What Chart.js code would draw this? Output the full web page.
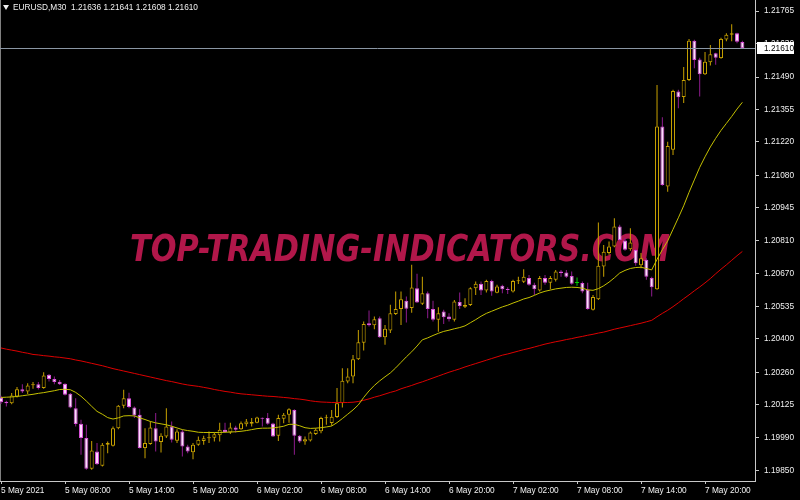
<!DOCTYPE html>
<html><head><meta charset="utf-8">
<script src="https://cdn.jsdelivr.net/npm/chart.js@4"></script>
<style>html,body{margin:0;padding:0;background:#000;overflow:hidden}canvas{display:block}</style>
</head><body>
<canvas id="c" width="800" height="500"></canvas>
<script>
// ---------------- data ----------------
const symbolTitle = 'EURUSD,M30';
const lastOHLC = ['1.21636', '1.21641', '1.21608', '1.21610'];
const bidPrice = 1.21610;
const watermarkText = 'TOP-TRADING-INDICATORS.COM';

const timeLabels = ['5 May 2021', '5 May 08:00', '5 May 14:00', '5 May 20:00', '6 May 02:00', '6 May 08:00',
  '6 May 14:00', '6 May 20:00', '7 May 02:00', '7 May 08:00', '7 May 14:00', '7 May 20:00'];
const barsPerTimeLabel = 12;

const priceTicks = [1.21765, 1.21630, 1.21490, 1.21355, 1.21220, 1.21080, 1.20945, 1.20810,
  1.20670, 1.20535, 1.20400, 1.20260, 1.20125, 1.19990, 1.19850];

const opens = [
1.20156,1.20138,1.20132,1.20160,1.20190,1.20181,1.20207,1.20211,1.20195,1.20250,
1.20233,1.20221,1.20213,1.20171,1.20111,1.20046,1.19987,1.19859,1.19931,1.19871,
1.19959,1.19955,1.20028,1.20121,1.20153,1.20114,1.20084,1.19945,1.19962,1.20028,
1.19970,1.19993,1.20035,1.19976,1.20014,1.19952,1.19928,1.19959,1.19975,1.19986,
1.19988,1.19998,1.20021,1.20010,1.20031,1.20024,1.20044,1.20046,1.20051,1.20070,
1.20070,1.20047,1.19996,1.20067,1.20084,1.20104,1.19996,1.19972,1.19977,1.20004,
1.20015,1.20069,1.20050,1.20074,1.20132,1.20222,1.20243,1.20315,1.20384,1.20465,
1.20457,1.20486,1.20407,1.20435,1.20503,1.20524,1.20559,1.20528,1.20611,1.20546,
1.20590,1.20524,1.20479,1.20514,1.20493,1.20479,1.20553,1.20534,1.20541,1.20611,
1.20629,1.20601,1.20641,1.20592,1.20621,1.20608,1.20597,1.20640,1.20638,1.20653,
1.20625,1.20601,1.20653,1.20634,1.20646,1.20680,1.20676,1.20662,1.20632,1.20632,
1.20604,1.20521,1.20565,1.20701,1.20757,1.20784,1.20868,1.20809,1.20773,1.20770,
1.20706,1.20729,1.20653,1.20607,1.21284,1.21034,1.21187,1.21430,1.21407,1.21478,
1.21641,1.21563,1.21502,1.21552,1.21589,1.21569,1.21647,1.21666,1.21673,1.21636];

const highs = [
1.20163,1.20142,1.20174,1.20199,1.20211,1.20215,1.20220,1.20220,1.20261,1.20254,
1.20243,1.20229,1.20215,1.20174,1.20153,1.20063,1.20042,1.19975,1.19966,1.19966,
1.19972,1.20035,1.20125,1.20188,1.20176,1.20118,1.20107,1.20028,1.20056,1.20091,
1.20007,1.20111,1.20056,1.20024,1.20021,1.19959,1.19966,1.19993,1.19996,1.20014,
1.20010,1.20051,1.20051,1.20051,1.20038,1.20056,1.20066,1.20070,1.20076,1.20072,
1.20091,1.20051,1.20084,1.20091,1.20111,1.20107,1.20000,1.19993,1.20014,1.20028,
1.20076,1.20084,1.20104,1.20195,1.20278,1.20278,1.20333,1.20437,1.20472,1.20518,
1.20493,1.20493,1.20458,1.20542,1.20597,1.20597,1.20576,1.20708,1.20671,1.20659,
1.20597,1.20559,1.20532,1.20521,1.20507,1.20562,1.20593,1.20569,1.20615,1.20639,
1.20639,1.20646,1.20646,1.20625,1.20625,1.20615,1.20646,1.20659,1.20690,1.20666,
1.20634,1.20662,1.20666,1.20662,1.20687,1.20687,1.20687,1.20680,1.20655,1.20639,
1.20634,1.20583,1.20884,1.20791,1.20805,1.20902,1.20875,1.20820,1.20861,1.20775,
1.20757,1.20736,1.20659,1.21457,1.21323,1.21221,1.21437,1.21437,1.21532,1.21649,
1.21645,1.21571,1.21594,1.21624,1.21591,1.21654,1.21673,1.21710,1.21675,1.21641];

const lows = [
1.20129,1.20118,1.20128,1.20156,1.20174,1.20170,1.20192,1.20189,1.20192,1.20222,
1.20211,1.20208,1.20164,1.20111,1.20035,1.19917,1.19855,1.19855,1.19875,1.19868,
1.19924,1.19952,1.20024,1.20111,1.20111,1.20070,1.19943,1.19903,1.19959,1.19931,
1.19927,1.19987,1.19968,1.19966,1.19910,1.19924,1.19899,1.19955,1.19959,1.19966,
1.19972,1.19972,1.20010,1.20004,1.20010,1.20021,1.20035,1.20035,1.20049,1.20035,
1.20042,1.19991,1.19975,1.20049,1.20051,1.19917,1.19966,1.19959,1.19972,1.20000,
1.20007,1.20042,1.20038,1.20070,1.20114,1.20215,1.20215,1.20312,1.20351,1.20451,
1.20440,1.20405,1.20375,1.20424,1.20499,1.20458,1.20468,1.20509,1.20549,1.20541,
1.20486,1.20472,1.20430,1.20462,1.20472,1.20472,1.20524,1.20528,1.20537,1.20583,
1.20583,1.20593,1.20579,1.20590,1.20590,1.20587,1.20593,1.20628,1.20632,1.20621,
1.20583,1.20597,1.20625,1.20607,1.20639,1.20659,1.20653,1.20625,1.20621,1.20590,
1.20521,1.20518,1.20562,1.20659,1.20750,1.20781,1.20805,1.20767,1.20767,1.20704,
1.20694,1.20646,1.20576,1.20604,1.21037,1.21013,1.21166,1.21360,1.21382,1.21474,
1.21527,1.21409,1.21499,1.21538,1.21541,1.21566,1.21639,1.21639,1.21631,1.21608];

const closes = [
1.20136,1.20132,1.20164,1.20190,1.20181,1.20206,1.20208,1.20195,1.20247,1.20233,
1.20220,1.20211,1.20167,1.20114,1.20045,1.19987,1.19859,1.19935,1.19878,1.19959,
1.19966,1.20028,1.20121,1.20153,1.20116,1.20081,1.19945,1.19966,1.20031,1.19972,
1.19996,1.20035,1.19980,1.20014,1.19952,1.19931,1.19959,1.19980,1.19986,1.19990,
1.20003,1.20021,1.20012,1.20031,1.20021,1.20049,1.20056,1.20054,1.20072,1.20067,
1.20046,1.19993,1.20070,1.20084,1.20107,1.19996,1.19972,1.19982,1.20010,1.20021,
1.20070,1.20071,1.20076,1.20132,1.20225,1.20243,1.20315,1.20386,1.20462,1.20457,
1.20482,1.20407,1.20442,1.20507,1.20524,1.20565,1.20525,1.20614,1.20551,1.20590,
1.20524,1.20479,1.20507,1.20490,1.20482,1.20555,1.20537,1.20541,1.20611,1.20629,
1.20601,1.20641,1.20597,1.20618,1.20607,1.20603,1.20641,1.20643,1.20659,1.20625,
1.20607,1.20653,1.20634,1.20653,1.20680,1.20674,1.20659,1.20629,1.20632,1.20597,
1.20524,1.20574,1.20704,1.20763,1.20784,1.20868,1.20812,1.20771,1.20801,1.20715,
1.20736,1.20659,1.20615,1.21284,1.21041,1.21203,1.21432,1.21406,1.21478,1.21641,
1.21561,1.21502,1.21554,1.21585,1.21571,1.21649,1.21666,1.21673,1.21637,1.21610];

const maFast = [
1.20156,1.20157,1.20158,1.20160,1.20163,1.20166,1.20169,1.20173,1.20176,1.20180,
1.20184,1.20189,1.20190,1.20188,1.20177,1.20161,1.20141,1.20119,1.20098,1.20086,
1.20072,1.20066,1.20071,1.20079,1.20080,1.20079,1.20071,1.20064,1.20056,1.20050,
1.20046,1.20042,1.20036,1.20029,1.20022,1.20018,1.20015,1.20011,1.20010,1.20010,
1.20010,1.20010,1.20011,1.20012,1.20013,1.20015,1.20018,1.20022,1.20026,1.20028,
1.20028,1.20029,1.20032,1.20036,1.20044,1.20044,1.20038,1.20030,1.20027,1.20028,
1.20030,1.20033,1.20037,1.20051,1.20068,1.20086,1.20104,1.20125,1.20156,1.20183,
1.20206,1.20225,1.20242,1.20258,1.20279,1.20302,1.20325,1.20346,1.20370,1.20396,
1.20404,1.20414,1.20423,1.20431,1.20436,1.20442,1.20447,1.20454,1.20467,1.20480,
1.20494,1.20506,1.20515,1.20524,1.20533,1.20540,1.20549,1.20557,1.20566,1.20572,
1.20581,1.20591,1.20598,1.20603,1.20608,1.20611,1.20614,1.20615,1.20614,1.20611,
1.20604,1.20602,1.20609,1.20621,1.20636,1.20654,1.20674,1.20685,1.20693,1.20697,
1.20698,1.20693,1.20687,1.20731,1.20771,1.20808,1.20856,1.20904,1.20954,1.21010,
1.21062,1.21114,1.21158,1.21199,1.21235,1.21268,1.21297,1.21326,1.21357,1.21385];

const maSlow = [
1.20362,1.20357,1.20353,1.20349,1.20344,1.20340,1.20335,1.20333,1.20330,1.20328,
1.20325,1.20323,1.20320,1.20317,1.20312,1.20308,1.20303,1.20298,1.20293,1.20288,
1.20282,1.20276,1.20271,1.20266,1.20261,1.20256,1.20251,1.20246,1.20241,1.20236,
1.20231,1.20226,1.20222,1.20217,1.20212,1.20208,1.20205,1.20202,1.20198,1.20194,
1.20189,1.20185,1.20181,1.20178,1.20174,1.20171,1.20169,1.20167,1.20165,1.20163,
1.20161,1.20160,1.20158,1.20156,1.20154,1.20151,1.20149,1.20146,1.20142,1.20139,
1.20137,1.20136,1.20135,1.20135,1.20135,1.20135,1.20136,1.20139,1.20144,1.20150,
1.20157,1.20163,1.20170,1.20177,1.20183,1.20192,1.20199,1.20206,1.20214,1.20221,
1.20229,1.20237,1.20245,1.20253,1.20261,1.20268,1.20275,1.20283,1.20290,1.20297,
1.20304,1.20311,1.20318,1.20325,1.20332,1.20337,1.20343,1.20349,1.20355,1.20360,
1.20366,1.20372,1.20378,1.20383,1.20388,1.20392,1.20397,1.20401,1.20406,1.20410,
1.20415,1.20419,1.20424,1.20428,1.20434,1.20440,1.20445,1.20450,1.20455,1.20460,
1.20465,1.20471,1.20477,1.20492,1.20506,1.20519,1.20534,1.20550,1.20567,1.20583,
1.20600,1.20616,1.20633,1.20651,1.20671,1.20690,1.20708,1.20727,1.20746,1.20764];

// ---------------- style ----------------
const FONT = 'Liberation Sans, Arial, sans-serif';
const BULL = '#c8a200';
const BEAR_EDGE = '#d850d8';
const BEAR_FILL = '#ffd8ff';
const BEAR_WICK = '#8e1c8e';
const DOJI = '#00d000';
const TEXT = '#f0f0f0';
const AXIS = '#c8c8c8';

const idx = opens.map((_, i) => i);
const kind = i => closes[i] === opens[i] ? 'doji' : (closes[i] > opens[i] ? 'bull' : 'bear');
const wickColors = idx.map(i => ({doji: DOJI, bull: BULL, bear: BEAR_WICK})[kind(i)]);
const bodyFill = idx.map(i => ({doji: DOJI, bull: '#000000', bear: BEAR_FILL})[kind(i)]);
const bodyEdge = idx.map(i => ({doji: DOJI, bull: BULL, bear: BEAR_EDGE})[kind(i)]);

const mtPlugin = {
  id: 'mt4look',
  beforeDraw(chart) {
    const ctx = chart.ctx;
    ctx.save();
    ctx.fillStyle = '#000';
    ctx.fillRect(0, 0, chart.width, chart.height);
    ctx.restore();
  },
  beforeDatasetsDraw(chart) {
    const ctx = chart.ctx, a = chart.chartArea;
    ctx.save();
    // watermark
    ctx.font = 'italic bold 38px "DejaVu Sans", sans-serif';
    const w = ctx.measureText(watermarkText).width;
    const target = 540;
    ctx.translate(400, 261);
    ctx.scale(target / w, 1);
    ctx.fillStyle = 'rgba(186,24,78,0.95)';
    ctx.textAlign = 'center';
    ctx.textBaseline = 'alphabetic';
    ctx.fillText(watermarkText, 0, 0);
    ctx.restore();
    // left border
    ctx.save();
    ctx.strokeStyle = '#808080';
    ctx.lineWidth = 1;
    ctx.beginPath();
    ctx.moveTo(0.5, a.top);
    ctx.lineTo(0.5, a.bottom);
    ctx.stroke();
    ctx.restore();
  },
  afterDraw(chart) {
    const ctx = chart.ctx, a = chart.chartArea, ys = chart.scales.y;
    const yb = Math.round(ys.getPixelForValue(bidPrice)) + 0.5;
    ctx.save();
    ctx.strokeStyle = '#8a96a4';
    ctx.lineWidth = 1;
    ctx.beginPath();
    ctx.moveTo(a.left, yb);
    ctx.lineTo(a.right, yb);
    ctx.stroke();
    // bid label box
    ctx.fillStyle = '#ffffff';
    ctx.fillRect(a.right + 2, yb - 6.5, 37, 12);
    ctx.fillStyle = '#000';
    ctx.font = '8.3px ' + FONT;
    ctx.textAlign = 'left';
    ctx.textBaseline = 'middle';
    ctx.fillText(bidPrice.toFixed(5), a.right + 9, yb);
    // header
    ctx.fillStyle = TEXT;
    ctx.beginPath();
    ctx.moveTo(3, 5); ctx.lineTo(9, 5); ctx.lineTo(6, 10); ctx.closePath();
    ctx.fill();
    ctx.font = '8.3px ' + FONT;
    ctx.fillText(symbolTitle + '  ' + lastOHLC.join(' '), 13, 8);
    ctx.restore();
  }
};

new Chart(document.getElementById('c'), {
  type: 'bar',
  data: {
    datasets: [
      { type: 'line', label: 'MA fast', data: idx.map(i => ({x: i, y: maFast[i]})),
        borderColor: '#c4c000', borderWidth: 1, pointRadius: 0, tension: 0, order: 0 },
      { type: 'line', label: 'MA slow', data: idx.map(i => ({x: i, y: maSlow[i]})),
        borderColor: '#dd0000', borderWidth: 1, pointRadius: 0, tension: 0, order: 0 },
      { label: 'bodies', data: idx.map(i => ({x: i, y: [opens[i], closes[i]]})),
        backgroundColor: bodyFill, borderColor: bodyEdge, borderWidth: 1, borderSkipped: false,
        barThickness: 4, minBarLength: 1, grouped: false, inflateAmount: 0, order: 1 },
      { label: 'wicks', data: idx.map(i => ({x: i, y: [lows[i], highs[i]]})),
        backgroundColor: wickColors, borderWidth: 0, barThickness: 1, grouped: false,
        inflateAmount: 0, order: 2 }
    ]
  },
  options: {
    responsive: false,
    animation: false,
    devicePixelRatio: 1,
    layout: { padding: 0 },
    plugins: { legend: { display: false }, tooltip: { enabled: false } },
    events: [],
    scales: {
      x: {
        type: 'linear', offset: false, min: -0.19, max: 141.37,
        grid: { display: true, drawOnChartArea: false, drawTicks: true, tickLength: 3, tickColor: AXIS, offset: false },
        border: { display: true, color: AXIS, width: 1 },
        afterBuildTicks: ax => { ax.ticks = timeLabels.map((_, k) => ({ value: k * barsPerTimeLabel })); },
        afterFit: ax => { ax.height = 19; ax.paddingLeft = 0; ax.paddingRight = 0; },
        ticks: {
          autoSkip: false, maxRotation: 0, minRotation: 0, align: 'start', padding: 2,
          color: TEXT, font: { family: FONT, size: 8.3 },
          callback: v => timeLabels[Math.round(v / barsPerTimeLabel)]
        }
      },
      y: {
        type: 'linear', position: 'right', min: 1.19808, max: 1.21811, beginAtZero: false,
        grid: { display: true, drawOnChartArea: false, drawTicks: true, tickLength: 4, tickColor: AXIS },
        border: { display: true, color: AXIS, width: 1 },
        afterBuildTicks: ax => { ax.ticks = priceTicks.map(v => ({ value: v })); },
        afterFit: ax => { ax.width = 45; ax.paddingTop = 0; ax.paddingBottom = 0; },
        ticks: {
          autoSkip: false, crossAlign: 'near', padding: 5,
          color: TEXT, font: { family: FONT, size: 8.3 },
          callback: v => v.toFixed(5)
        }
      }
    }
  },
  plugins: [mtPlugin]
});
</script>
</body></html>
